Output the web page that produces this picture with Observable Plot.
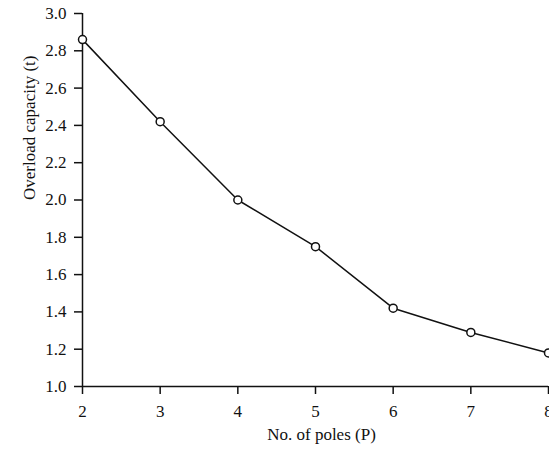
<!DOCTYPE html>
<html>
<head>
<meta charset="utf-8">
<script src="https://cdn.jsdelivr.net/npm/d3@7"></script>
<script src="https://cdn.jsdelivr.net/npm/@observablehq/plot@0.6"></script>
<style>
  html, body { margin: 0; padding: 0; background: #fff; }
  #chart { width: 549px; height: 450px; overflow: hidden; }
</style>
</head>
<body>
<div id="chart"></div>
<script>
const poles = [2, 3, 4, 5, 6, 7, 8];
const capacity = [2.86, 2.42, 2.00, 1.75, 1.42, 1.29, 1.18];
const xTicks = [2, 3, 4, 5, 6, 7, 8];
const yTicks = [1.0, 1.2, 1.4, 1.6, 1.8, 2.0, 2.2, 2.4, 2.6, 2.8, 3.0];
const xTitle = "No. of poles (P)";
const yTitle = "Overload capacity (t)";

const data = poles.map((p, i) => ({p, c: capacity[i]}));

const chart = Plot.plot({
  width: 549,
  height: 450,
  marginLeft: 82,
  marginRight: 1,
  marginTop: 13,
  marginBottom: 64,
  x: {domain: [2, 8]},
  y: {domain: [1, 3]},
  style: {fontFamily: "'Liberation Serif', 'Times New Roman', serif", fontSize: "17px", color: "#111", background: "#fff", overflow: "visible"},
  marks: [
    Plot.axisY({ticks: yTicks, tickFormat: d3.format(".1f"), tickSize: 8, tickPadding: 8, strokeWidth: 1.5, label: null, fontSize: 17}),
    Plot.axisX({ticks: xTicks, tickFormat: d3.format("d"), tickSize: 8, tickPadding: 10, strokeWidth: 1.5, label: null, fontSize: 17}),
    Plot.ruleX([2], {stroke: "#111", strokeWidth: 1.5}),
    Plot.ruleY([1], {stroke: "#111", strokeWidth: 1.5}),
    Plot.line(data, {x: "p", y: "c", stroke: "#111", strokeWidth: 1.5}),
    Plot.dot(data, {x: "p", y: "c", r: 4, fill: "#fff", stroke: "#111", strokeWidth: 1.5}),
    Plot.text([xTitle], {frameAnchor: "bottom", dx: 6, dy: 53, fontSize: 17, fill: "#111"}),
    Plot.text([yTitle], {frameAnchor: "left", rotate: -90, dx: -53, fontSize: 17, fill: "#111"})
  ]
});
document.getElementById("chart").appendChild(chart);
</script>
</body>
</html>
